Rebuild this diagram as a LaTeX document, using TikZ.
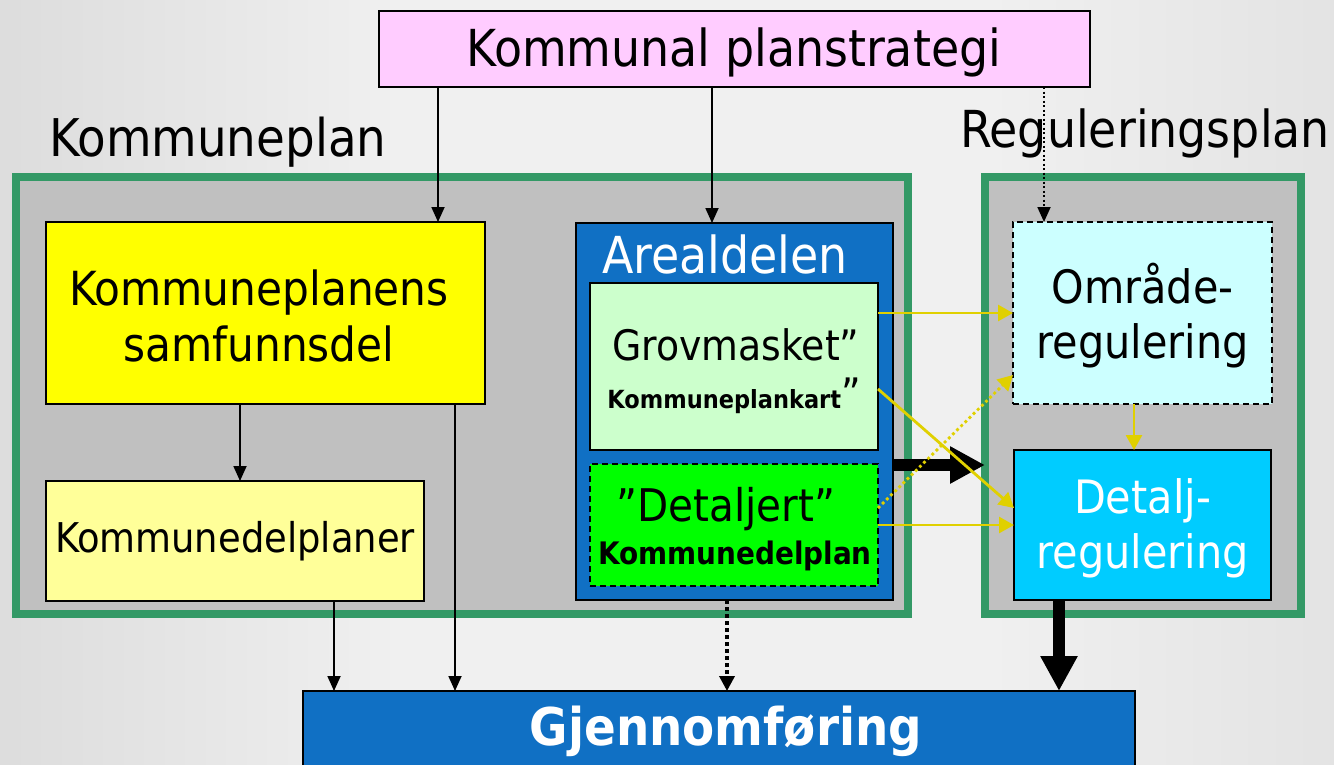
\documentclass[tikz,border=0pt]{standalone}
\usepackage{fontspec}
\setmainfont{DejaVu Sans Condensed}
\usetikzlibrary{arrows.meta}
\definecolor{bgL}{HTML}{BCBCBC}
\definecolor{bgM}{HTML}{F0F0F0}
\definecolor{bgR}{HTML}{CBCBCB}
\definecolor{pinkc}{HTML}{FFCCFF}
\definecolor{yelc}{HTML}{FFFF00}
\definecolor{lyelc}{HTML}{FFFF99}
\definecolor{bluec}{HTML}{1070C4}
\definecolor{lgreenc}{HTML}{CCFFCC}
\definecolor{greenc}{HTML}{00FF00}
\definecolor{lcyanc}{HTML}{CCFFFF}
\definecolor{cyanc}{HTML}{00CCFF}
\definecolor{framec}{HTML}{339966}
\definecolor{grayc}{HTML}{C0C0C0}
\definecolor{yarrc}{HTML}{E0D000}
\pgfdeclarehorizontalshading{bgshade}{100bp}{color(0bp)=(bgL); color(40bp)=(bgM); color(62bp)=(bgM); color(100bp)=(bgR)}
\tikzset{
  box/.style={draw=black, line width=1.5pt, inner sep=0pt, outer sep=0pt, align=center},
  dbox/.style={box, line width=2pt, dash pattern=on 6pt off 4pt},
  frame/.style={draw=framec, fill=grayc, line width=8pt, inner sep=0pt, outer sep=0pt},
  thinarr/.style={draw=black, line width=1.8pt, -{Triangle[width=13pt,length=15pt]}},
  dotarr/.style={thinarr, dash pattern=on 2pt off 2.5pt},
  thickdot/.style={draw=black, line width=3.5pt, dash pattern=on 3.5pt off 3.5pt, -{Triangle[width=15pt,length=15pt]}},
  bigarr/.style={draw=black, line width=12pt, -{Triangle[width=35pt,length=35pt]}},
  yarr/.style={draw=yarrc, line width=2.8pt, -{Triangle[width=16pt,length=15pt]}},
  ydot/.style={yarr, dash pattern=on 2.8pt off 3pt},
  fL/.style={font=\fontsize{51}{56}\selectfont},
  fM/.style={font=\fontsize{46}{55}\selectfont},
}
\begin{document}
\begin{tikzpicture}[x=1pt,y=-1pt]
\clip (0,0) rectangle (1334,764);
\shade[shading=bgshade] (0,0) rectangle (1334,764);

% frames
\node[frame, minimum width=892pt, minimum height=437pt] (kp) at (462,395.5) {};
\node[frame, minimum width=316pt, minimum height=437pt] (rp) at (1143,395.5) {};
\node[fL, font=\fontsize{52}{56}\selectfont] (kplab) at (218,142) {Kommuneplan};
\node[fL] (rplab) at (1145,133) {Reguleringsplan};

% top
\node[box, fill=pinkc, fL, minimum width=711pt, minimum height=76pt] (ps) at (734.5,49) {};
\node[fL] (pst) at (734,52) {Kommunal planstrategi};

% left
\node[box, fill=yelc, minimum width=439pt, minimum height=182pt] (sam) at (265.5,313) {};
\node[font=\fontsize{47}{56}\selectfont, align=center] (samt) at (259,316) {Kommuneplanens\\samfunnsdel};
\node[box, fill=lyelc, font=\fontsize{41}{48}\selectfont, minimum width=378pt, minimum height=120pt] (kdp) at (235,541) {Kommunedelplaner};

% arealdelen
\node[box, fill=bluec, minimum width=317pt, minimum height=377pt] (are) at (734.5,411.5) {};
\node[fL, text=white] (aretitle) at (725,254) {Arealdelen};
\node[box, fill=lgreenc, minimum width=288pt, minimum height=167pt] (grov) at (734,366.5) {};
\node[font=\fontsize{42}{48}\selectfont] (grovt1) at (736,345) {Grovmasket”};
\node (grovt2) at (734,396) {{\bfseries\fontsize{25}{30}\selectfont Kommuneplankart}{\fontsize{42}{48}\selectfont ”}};
\node[dbox, fill=greenc, minimum width=288pt, minimum height=122pt] (det) at (734,525) {};
\node[font=\fontsize{45}{52}\selectfont] (dett1) at (726,509) {”Detaljert”};
\node[font=\bfseries\fontsize{31}{36}\selectfont] (dett2) at (735,556) {Kommunedelplan};

% regulering
\node[dbox, fill=lcyanc, minimum width=259pt, minimum height=182pt] (omr) at (1142.5,313) {};
\node[fM, align=center] (omrt) at (1142.5,316) {Område-\\regulering};
\node[box, fill=cyanc, minimum width=257pt, minimum height=150pt] (dtl) at (1142.5,525) {};
\node[fM, text=white, align=center] (dtlt) at (1142.5,528) {Detalj-\\regulering};

% bottom
\node[box, fill=bluec, minimum width=832pt, minimum height=80pt] (gj) at (719,731) {};
\node[text=white, font=\bfseries\fontsize{52}{58}\selectfont] (gjt) at (726,731) {Gjennomføring};

% connectors
\draw[thinarr] (438,0 |- ps.south) -- (438,0 |- sam.north);
\draw[thinarr] (712,0 |- ps.south) -- (712,0 |- are.north);
\draw[dotarr] (1044,0 |- ps.south) -- (1044,0 |- omr.north);
\draw[thinarr] (240,0 |- sam.south) -- (240,0 |- kdp.north);
\draw[thinarr] (455,0 |- sam.south) -- (455,0 |- gj.north);
\draw[thinarr] (334,0 |- kdp.south) -- (334,0 |- gj.north);
\draw[thickdot] (727,0 |- are.south) -- (727,0 |- gj.north);
\draw[bigarr] (1059,0 |- dtl.south) -- (1059,0 |- gj.north);
\draw[bigarr] (are.east |- 0,465) -- (rp.west |- 0,465);

\draw[yarr] (grov.east |- 0,313) -- (omr.west |- 0,313);
\draw[yarr] (grov.east |- 0,389) -- (dtl.west |- 0,508);
\draw[ydot] (det.east |- 0,508) -- (omr.west |- 0,375);
\draw[yarr] (det.east |- 0,525) -- (dtl.west |- 0,525);
\draw[yarr] (1134,0 |- omr.south) -- (1134,0 |- dtl.north);
\end{tikzpicture}
\end{document}
